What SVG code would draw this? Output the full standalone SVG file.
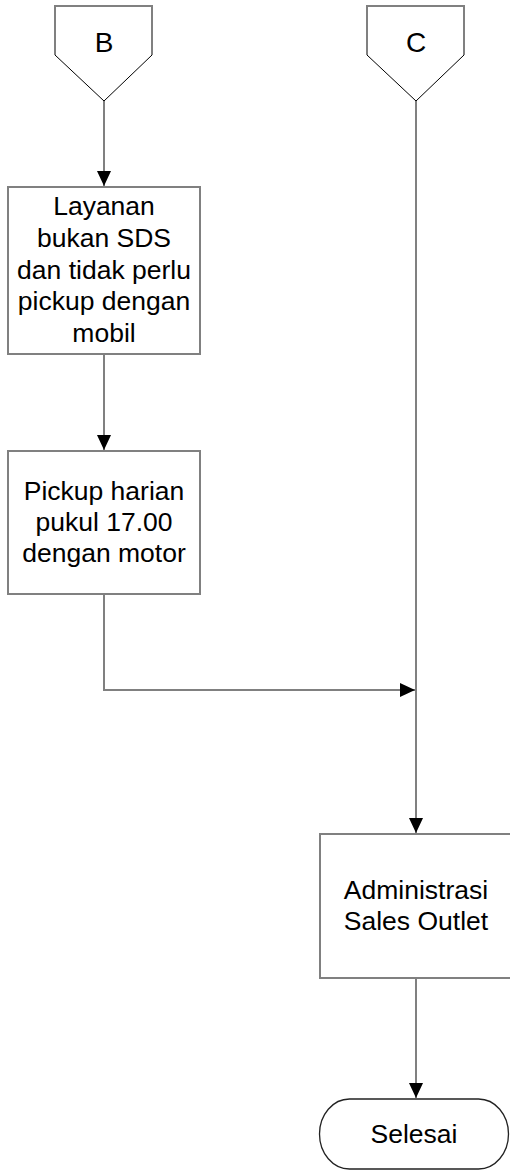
<svg xmlns="http://www.w3.org/2000/svg" width="510" height="1171" viewBox="0 0 510 1171">
  <style>
    .frame { fill: #ffffff; stroke: #808080; stroke-width: 2; }
    .edge { fill: none; stroke: #808080; stroke-width: 2; }
    .diag { fill: none; stroke: #000000; stroke-width: 1; }
    .term { fill: #ffffff; stroke: #222222; stroke-width: 1.3; }
    .label { font-family: "Liberation Sans", Arial, sans-serif; font-size: 26.5px; fill: #000000; text-anchor: middle; }
    .ref { font-size: 28px; }
  </style>
  <defs>
    <marker id="arrow" markerUnits="userSpaceOnUse" markerWidth="15" markerHeight="14" refX="15" refY="7" orient="auto">
      <path d="M0,0 L15,7 L0,14 z" fill="#000000"/>
    </marker>
  </defs>

  <!-- connectors -->
  <g id="connectors">
    <line class="edge" x1="104" y1="101" x2="104" y2="186" marker-end="url(#arrow)"/>
    <line class="edge" x1="104" y1="354" x2="104" y2="450" marker-end="url(#arrow)"/>
    <polyline class="edge" points="104,594 104,690 415,690" marker-end="url(#arrow)"/>
    <line class="edge" x1="416" y1="101" x2="416" y2="833" marker-end="url(#arrow)"/>
    <line class="edge" x1="416" y1="978" x2="416" y2="1098" marker-end="url(#arrow)"/>
  </g>

  <!-- off-page connector B -->
  <g id="node-b">
    <path d="M55,55 L104,101 L152,55 Z" fill="#ffffff" stroke="none"/>
    <rect x="55" y="6" width="97" height="49" fill="#ffffff"/>
    <path class="edge" d="M55,55 V6 H152 V55"/>
    <path class="diag" d="M55,55 L104,101 L152,55"/>
    <text class="label ref" x="104" y="52">B</text>
  </g>

  <!-- off-page connector C -->
  <g id="node-c">
    <path d="M367,55 L416,101 L464,55 Z" fill="#ffffff" stroke="none"/>
    <rect x="367" y="6" width="97" height="49" fill="#ffffff"/>
    <path class="edge" d="M367,55 V6 H464 V55"/>
    <path class="diag" d="M367,55 L416,101 L464,55"/>
    <text class="label ref" x="416" y="52">C</text>
  </g>

  <!-- process: Layanan bukan SDS -->
  <g id="node-layanan">
    <rect class="frame" x="8" y="187" width="192" height="167"/>
    <text class="label" x="104" y="215">Layanan</text>
    <text class="label" x="104" y="247">bukan SDS</text>
    <text class="label" x="104" y="278.5">dan tidak perlu</text>
    <text class="label" x="104" y="310">pickup dengan</text>
    <text class="label" x="104" y="342">mobil</text>
  </g>

  <!-- process: Pickup harian -->
  <g id="node-pickup">
    <rect class="frame" x="8" y="451" width="192" height="143"/>
    <text class="label" x="104" y="500">Pickup harian</text>
    <text class="label" x="104" y="531">pukul 17.00</text>
    <text class="label" x="104" y="562">dengan motor</text>
  </g>

  <!-- process: Administrasi Sales Outlet -->
  <g id="node-admin">
    <rect class="frame" x="320" y="834" width="192" height="144"/>
    <text class="label" x="416" y="899">Administrasi</text>
    <text class="label" x="416" y="930">Sales Outlet</text>
  </g>

  <!-- terminator: Selesai -->
  <g id="node-selesai">
    <rect class="term" x="319.5" y="1099" width="189" height="70" rx="30" ry="35"/>
    <text class="label" x="414" y="1143">Selesai</text>
  </g>
</svg>
